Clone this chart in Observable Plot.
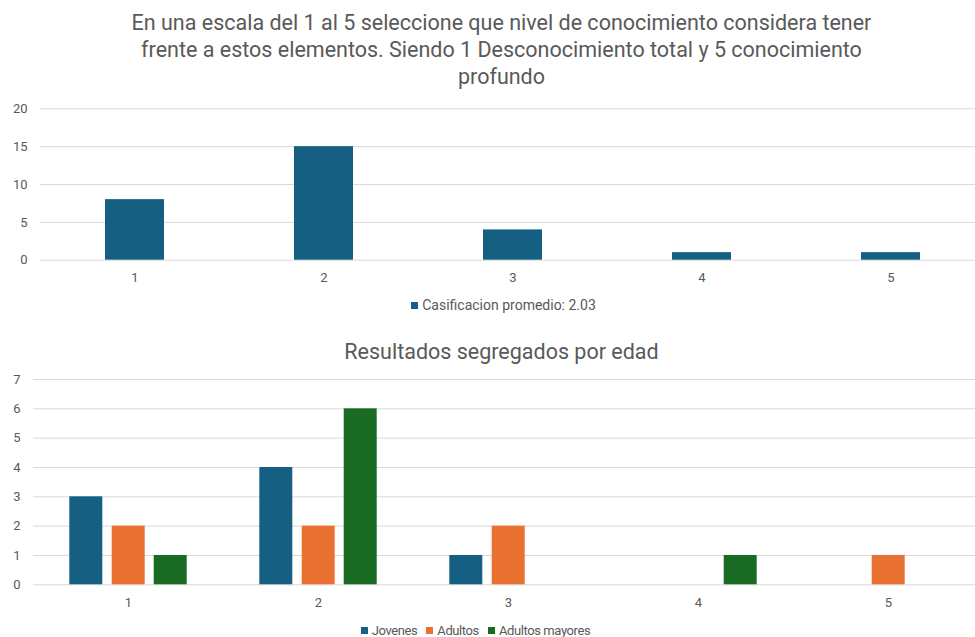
<!DOCTYPE html>
<html>
<head>
<meta charset="utf-8">
<script src="https://cdn.jsdelivr.net/npm/d3@7"></script>
<script src="https://cdn.jsdelivr.net/npm/@observablehq/plot@0.6"></script>
<style>
  html, body { margin: 0; padding: 0; background: #fff; }
  #root { position: relative; width: 975px; height: 637px; overflow: hidden; background: #fff;
          font-family: Roboto, "Liberation Sans", sans-serif; color: #595959; }
  .title { position: absolute; left: 0; width: 1003px; text-align: center; color: #595959; }
  .legend { position: absolute; left: 0; width: 975px; display: flex; justify-content: center;
            color: #595959; }
  .legend span.item { display: inline-flex; align-items: center; }
  .legend i { display: inline-block; width: 7px; height: 7px; margin-right: 4px; }
  .plot { position: absolute; left: 0; }
</style>
</head>
<body>
<div id="root"></div>
<script>
// Knowledge level (1 = no knowledge, 5 = deep knowledge)
const niveles = ["1", "2", "3", "4", "5"];
// Number of answers per level, all respondents
const totales = [8, 15, 4, 1, 1];
// Answers per level, split by age group
const jovenes = [3, 4, 1, 0, 0];
const adultos = [2, 2, 2, 0, 1];
const mayores = [1, 6, 0, 1, 0];
const grupos = ["Jovenes", "Adultos", "Adultos mayores"];
const colores = ["#156082", "#E97132", "#196B24"];
const leyendaTotal = "Casificacion promedio: 2.03";
const titulo1 = ["En una escala del 1 al 5 seleccione que nivel de conocimiento considera tener",
                 "frente a estos elementos. Siendo 1 Desconocimiento total y 5 conocimiento",
                 "profundo"];
const titulo2 = "Resultados segregados por edad";

const root = document.getElementById("root");

function addTitle(lines, top, size, lineHeight) {
  const d = document.createElement("div");
  d.className = "title";
  d.style.top = top + "px";
  d.style.fontSize = size + "px";
  d.style.lineHeight = lineHeight + "px";
  d.innerHTML = lines.join("<br>");
  root.appendChild(d);
}

function addLegend(names, colors, top, shiftX, opts) {
  const d = document.createElement("div");
  d.className = "legend";
  d.style.top = top + "px";
  d.style.left = shiftX + "px";
  d.style.fontSize = opts.size + "px";
  d.style.letterSpacing = opts.spacing + "px";
  d.style.columnGap = opts.gap + "px";
  names.forEach((n, i) => {
    const s = document.createElement("span");
    s.className = "item";
    s.innerHTML = `<i style="background:${colors[i]}"></i>${n}`;
    d.appendChild(s);
  });
  root.appendChild(d);
}

function place(svg, top) {
  svg.classList.add("plot");
  svg.style.top = top + "px";
  root.appendChild(svg);
}

const axisStyle = { fontSize: "13px", color: "#595959", fontFamily: "Roboto, 'Liberation Sans', sans-serif", overflow: "visible", background: "transparent" };

// ---- Top chart: all respondents ----
addTitle(titulo1, 9, 21.5, 27);

const topData = niveles.map((n, i) => ({ nivel: n, valor: totales[i] }));
const topPlot = Plot.plot({
  width: 975,
  height: 190,
  marginLeft: 40,
  marginRight: 0,
  marginTop: 8.3,
  marginBottom: 30.3,
  style: axisStyle,
  x: { domain: niveles, range: [40, 985], padding: 0, label: null },
  y: { domain: [0, 20], label: null },
  marks: [
    Plot.gridY([0, 5, 10, 15, 20], { stroke: "#D9D9D9", strokeOpacity: 1, strokeWidth: 1 }),
    Plot.axisY({ ticks: [0, 5, 10, 15, 20], tickFormat: d3.format("d"), tickSize: 0, tickPadding: 13, label: null, fill: "#595959" }),
    Plot.axisX({ tickSize: 0, tickPadding: 13, label: null, fill: "#595959" }),
    Plot.barY(topData, { x: "nivel", y: "valor", fill: colores[0], insetLeft: 65, insetRight: 65 })
  ]
});
place(topPlot, 100);
addLegend([leyendaTotal], [colores[0]], 297, 16, { size: 14, spacing: 0, gap: 0 });

// ---- Bottom chart: by age group ----
addTitle([titulo2], 340, 21.5, 24);

const porGrupo = [jovenes, adultos, mayores];
const bottomData = niveles.flatMap((n, i) =>
  grupos.map((g, j) => ({ nivel: n, grupo: g, valor: porGrupo[j][i] }))
).filter(d => d.valor > 0);

// Each band is 190px wide; the three bars of a group are 33px wide, 42px apart
const insets = [[36.3, 120.7], [78.7, 78.3], [120.7, 36.3]];

const bottomPlot = Plot.plot({
  width: 975,
  height: 250,
  marginLeft: 33,
  marginRight: 0,
  marginTop: 14,
  marginBottom: 30.7,
  style: axisStyle,
  x: { domain: niveles, range: [33, 983], padding: 0, label: null },
  y: { domain: [0, 7], label: null },
  marks: [
    Plot.gridY(d3.range(0, 8), { stroke: "#D9D9D9", strokeOpacity: 1, strokeWidth: 1 }),
    Plot.axisY({ ticks: d3.range(0, 8), tickFormat: d3.format("d"), tickSize: 0, tickPadding: 13, label: null, fill: "#595959" }),
    Plot.axisX({ tickSize: 0, tickPadding: 13, label: null, fill: "#595959" }),
    ...grupos.map((g, j) =>
      Plot.barY(bottomData.filter(d => d.grupo === g), {
        x: "nivel", y: "valor", fill: colores[j],
        insetLeft: insets[j][0], insetRight: insets[j][1]
      })
    )
  ]
});
place(bottomPlot, 365);
addLegend(grupos, colores, 623, -12, { size: 13, spacing: -0.4, gap: 9 });
</script>
</body>
</html>
